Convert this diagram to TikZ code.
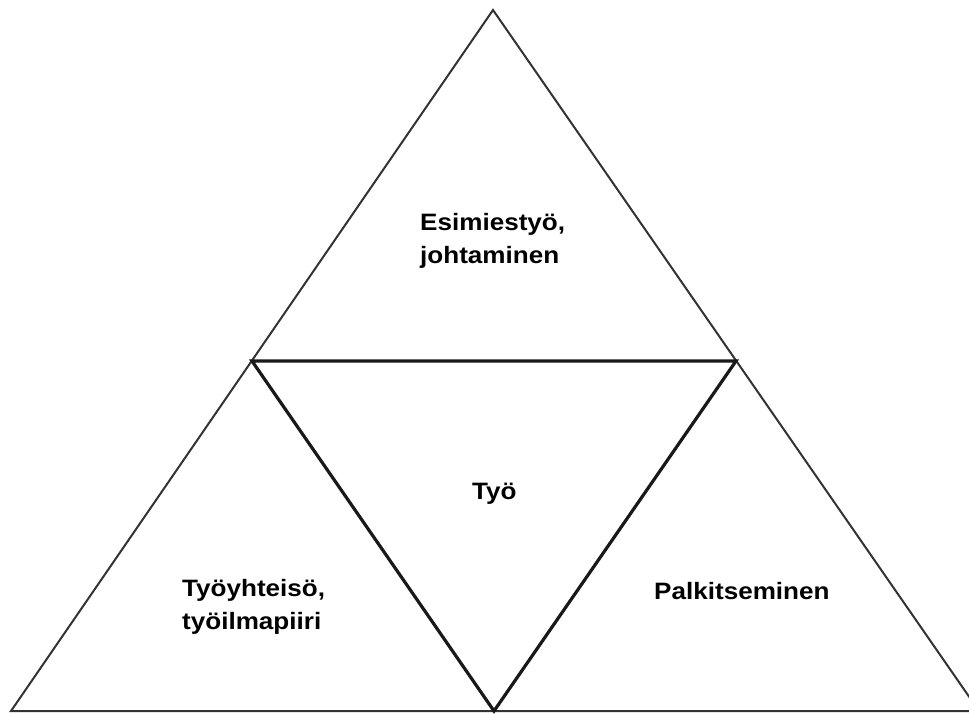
\documentclass[tikz,border=0pt]{standalone}
\usepackage{fontspec}
\newfontfamily\kaaviofont{Liberation Sans}[FakeStretch=1.1]
\begin{document}
\begin{tikzpicture}[x=1pt,y=-1pt]
            \tikzstyle{teksti}=[inner sep=0pt,align=left,font=\kaaviofont\bfseries\fontsize{23.7}{33.5}\selectfont]
            \tikzstyle{reuna}=[line width=2pt,black!80]
            \tikzstyle{sisa}=[line width=3.2pt,black!90]
            \useasboundingbox (0,0) rectangle (969,713);
            \clip (0,0) rectangle (969,713);
            \coordinate (huippu) at (493,10);
            \coordinate (vasen) at (11,711);
            \coordinate (oikea) at (979,711);
            \coordinate (vk) at (252,361);
            \coordinate (ok) at (736,361);
            \coordinate (ak) at (494,711);
            \draw[reuna] (huippu) -- (oikea) -- (vasen) -- cycle;
            \draw[sisa] (vk) -- (ok) -- (ak) -- cycle;
            \node[teksti,anchor=west] (esimies) at (420,241) {Esimiestyö,\\johtaminen};
            \node[teksti,anchor=base west] (tyo) at (472,499) {Työ};
            \node[teksti,anchor=west] (yhteiso) at (182,607) {Työyhteisö,\\työilmapiiri};
            \node[teksti,anchor=base west] (palkka) at (654,599) {Palkitseminen};
\end{tikzpicture}
\end{document}
